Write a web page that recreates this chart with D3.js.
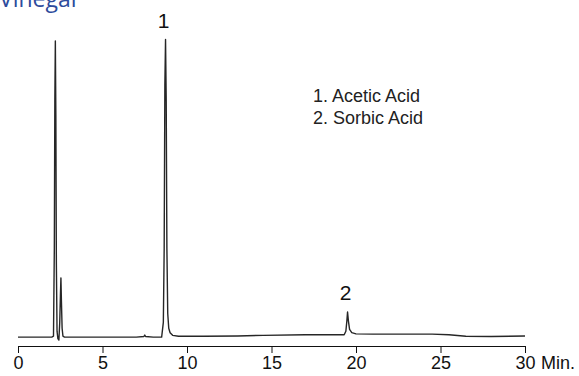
<!DOCTYPE html>
<html>
<head>
<meta charset="utf-8">
<script src="https://cdn.jsdelivr.net/npm/d3@7"></script>
<style>
  body { margin: 0; background: #fff; }
  svg { display: block; }
</style>
</head>
<body>
<div id="svg-container"></div>
<script>
// chromatogram trace (time in min, signal in % of tallest peak)
var times = [0, 1, 2.0, 2.10, 2.15, 2.18, 2.21, 2.24, 2.27, 2.31, 2.36, 2.42, 2.47, 2.51, 2.54, 2.57, 2.61, 2.66, 2.75, 3.5, 5, 7.0, 7.45, 7.5, 7.55, 8.0, 8.50, 8.60, 8.65, 8.69, 8.73, 8.77, 8.81, 8.86, 8.92, 9.0, 9.15, 9.5, 11, 13, 14.5, 17, 19.30, 19.40, 19.46, 19.50, 19.55, 19.62, 19.75, 20.0, 21, 23, 24.5, 25.5, 26.5, 28, 30];
var signal = [0, 0, 0, 0.3, 30, 80, 100, 75, 25, 2, -0.5, -1, 5, 14, 20, 12, 3, 0.3, 0, 0, 0, 0, 0.2, 0.7, 0.2, 0, 0, 5, 30, 85, 100.5, 80, 30, 8, 3, 1.5, 0.6, 0.3, 0.3, 0.4, 0.6, 0.8, 0.8, 2, 5.5, 8.5, 5.5, 2.6, 1.5, 1.1, 1, 1, 1, 0.8, 0.3, 0.2, 0.4];

var tickValues = [0, 5, 10, 15, 20, 25, 30];
var axisUnit = "Min.";

var peakNums = ["1", "2"];
var peakTimes = [8.73, 19.5];
var peakHeights = [100.5, 8.5];
var compounds = ["1. Acetic Acid", "2. Sorbic Acid"];

var title = "Vinegar";

// layout
var margin = {top: 41, right: 54, bottom: 30, left: 18},
  width = 579 - margin.left - margin.right,
  height = 376 - margin.top - margin.bottom;

var svg = d3.select("#svg-container")
    .append("svg")
    .attr("width", 579)
    .attr("height", 376);

var g = svg.append("g")
    .attr("transform", "translate(" + margin.left + "," + margin.top + ")");

var x = d3.scaleLinear()
  .domain([0, 30])
  .range([0, width]);

var y = d3.scaleLinear()
  .domain([-3, 100])
  .range([height, 0]);

// x axis
var xAxis = d3.axisBottom(x)
  .tickValues(tickValues)
  .tickSize(7)
  .tickPadding(3)
  .tickFormat(d3.format("d"));

var ax = g.append("g")
  .attr("transform", "translate(0," + height + ")")
  .call(xAxis);
ax.selectAll("path, line").attr("stroke", "#111").attr("stroke-width", 1);
ax.selectAll("text")
  .attr("fill", "#111")
  .style("font-family", "Arial, 'Liberation Sans', sans-serif")
  .style("font-size", "18px");

g.append("text")
  .attr("x", x(30) + 16)
  .attr("y", height + 10)
  .attr("dy", "0.71em")
  .attr("fill", "#111")
  .style("font-family", "Arial, 'Liberation Sans', sans-serif")
  .style("font-size", "18px")
  .text(axisUnit);

// trace
var trace = d3.zip(times, signal);
var line = d3.line()
  .x(function(d) { return x(d[0]); })
  .y(function(d) { return y(d[1]); });

g.append("path")
  .datum(trace)
  .attr("fill", "none")
  .attr("stroke", "#262626")
  .attr("stroke-width", 1.4)
  .attr("stroke-linejoin", "round")
  .attr("d", line);

// peak numbers
g.selectAll(".peak-num")
  .data(peakNums)
  .enter()
  .append("text")
  .attr("class", "peak-num")
  .attr("x", function(d, i) { return x(peakTimes[i]) - 2; })
  .attr("y", function(d, i) { return y(peakHeights[i]) - 12; })
  .attr("text-anchor", "middle")
  .attr("fill", "#111")
  .style("font-family", "Arial, 'Liberation Sans', sans-serif")
  .style("font-size", "21px")
  .text(function(d) { return d; });

// compound list
g.selectAll(".compound")
  .data(compounds)
  .enter()
  .append("text")
  .attr("class", "compound")
  .attr("x", 313 - margin.left)
  .attr("y", function(d, i) { return 102 - margin.top + i * 22; })
  .attr("fill", "#222")
  .style("font-family", "Arial, 'Liberation Sans', sans-serif")
  .style("font-size", "18px")
  .text(function(d) { return d; });

// title, cut off at the top edge
svg.append("text")
  .attr("x", -1)
  .attr("y", 7)
  .attr("fill", "#2d4b9c")
  .style("font-family", "'Open Sans', sans-serif")
  .style("font-size", "23px")
  .text(title);
</script>
</body>
</html>
